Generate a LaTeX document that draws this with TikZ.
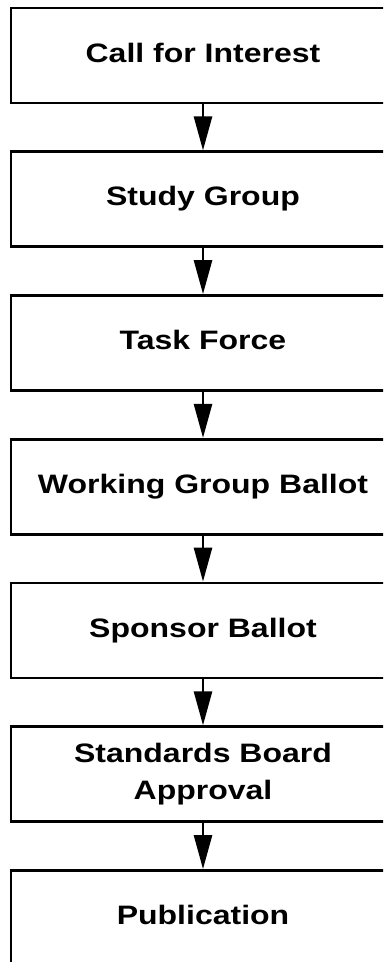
\documentclass[tikz,border=0pt]{standalone}
\usepackage{fontspec}
\setmainfont{Liberation Sans}[FakeStretch=1.2]
\usetikzlibrary{arrows.meta}
\tikzstyle{stage} = [rectangle, minimum width=288pt, minimum height=71.25pt, text centered, draw=black, line width=2pt, font=\bfseries\fontsize{20}{27.5}\selectfont, text height=14.5pt, text depth=4.5pt]
\tikzstyle{arrow} = [line width=2pt,-{Triangle[length=25.5pt,width=13.5pt]}]

\begin{document}
\begin{tikzpicture}[x=0.75pt, y=-0.75pt, node distance=107.8pt]
			\clip (0,0) rectangle (383,962);
			\node (interest) [stage] at (203,55.5) {Call for Interest};
			\node (study) [stage, below of=interest] {Study Group};
			\node (task) [stage, below of=study] {Task Force};
			\node (wgballot) [stage, below of=task] {Working Group Ballot};
			\node (sponsor) [stage, below of=wgballot] {Sponsor Ballot};
			\node (board) [stage, below of=sponsor, align=center, text height=, text depth=] {Standards Board\\Approval};
			\node (publication) [stage, below of=board] {Publication};
			
			\draw [arrow] (interest) -- (study);
			\draw [arrow] (study) -- (task);
			\draw [arrow] (task) -- (wgballot);
			\draw [arrow] (wgballot) -- (sponsor);
			\draw [arrow] (sponsor) -- (board);
			\draw [arrow] (board) -- (publication);
		\end{tikzpicture}
\end{document}
